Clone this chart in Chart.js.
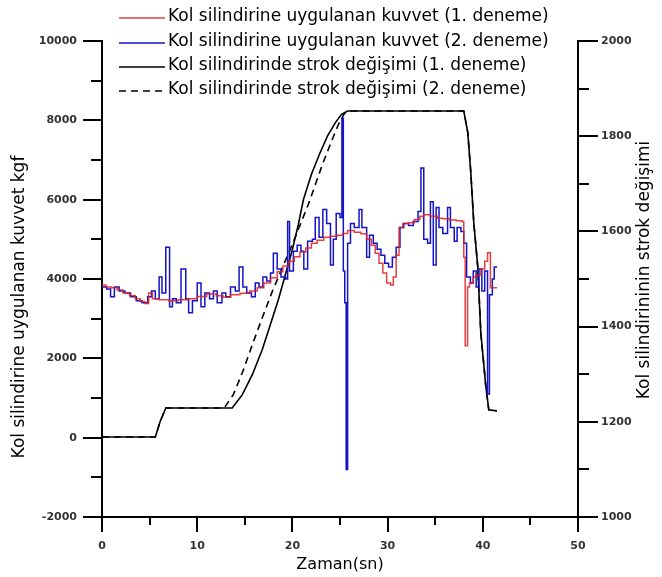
<!DOCTYPE html>
<html>
<head>
<meta charset="utf-8">
<script src="https://cdn.jsdelivr.net/npm/chart.js@4.4.1/dist/chart.umd.min.js"></script>
<style>
  html, body { margin: 0; padding: 0; background: #fff; }
  #kutu { width: 662px; height: 577px; }
</style>
</head>
<body>
<div id="kutu"><canvas id="grafik"></canvas></div>
<script>
const seriAdlari = [
  "Kol silindirine uygulanan kuvvet (1. deneme)",
  "Kol silindirine uygulanan kuvvet (2. deneme)",
  "Kol silindirinde strok değişimi (1. deneme)",
  "Kol silindirinde strok değişimi (2. deneme)",
];

// kuvvet (kgf), 1. deneme
const kuvvet1Zaman = [0, 0.4, 1, 1.6, 2.2, 2.9, 3.5, 4, 4.5, 4.9, 5.3, 6, 7, 8, 9, 10, 11, 12, 12.7, 13.5,
  14.5, 15.5, 16.3, 17, 17.7, 18.4, 19, 19.6, 20.2, 20.8, 21.4, 22, 22.6, 23.3, 24, 24.7, 25.3, 25.8, 26.5, 27.2,
  27.8, 28.3, 28.7, 29.1, 29.5, 29.9, 30.3, 30.6, 30.9, 31.2, 31.6, 32.2, 32.8, 33.4, 33.8, 34.5, 35.2, 35.8, 36.5, 37.2,
  37.8, 38, 38.15, 38.4, 38.6, 39, 39.4, 39.8, 40.2, 40.5, 40.8, 41.5];
const kuvvet1 = [3850, 3800, 3780, 3720, 3650, 3580, 3500, 3430, 3380, 3650, 3500, 3480, 3450, 3480, 3500, 3560, 3620, 3580, 3540, 3600,
  3640, 3700, 3780, 3900, 4030, 4180, 4330, 4450, 4560, 4680, 4780, 4900, 4980, 5050, 5080, 5100, 5150, 5220, 5180, 5140,
  5000, 4850, 4650, 4400, 4150, 3900, 3850, 4050, 4600, 5300, 5400, 5420, 5500, 5580, 5620, 5580, 5530, 5520, 5490, 5470,
  5450, 4550, 2320, 3800, 3900, 4050, 4100, 4250, 4450, 4660, 3780, 3780];

// kuvvet (kgf), 2. deneme
const kuvvet2Zaman = [0, 0.5, 0.9, 1.3, 1.8, 2.4, 3, 3.6, 4.2, 4.8, 5.2, 5.6, 6, 6.3, 6.7, 7.1, 7.4, 7.8, 8.3, 8.8,
  9.1, 9.5, 10, 10.4, 10.8, 11.3, 11.7, 12.1, 12.6, 13, 13.5, 14, 14.4, 14.8, 15.2, 15.7, 16.1, 16.5, 16.9, 17.3,
  17.7, 18, 18.4, 18.8, 19.3, 19.5, 19.7, 20.1, 20.5, 20.9, 21.2, 21.6, 22.1, 22.4, 22.8, 23.2, 23.6, 24, 24.3, 24.6,
  25, 25.2, 25.35, 25.5, 25.65, 25.8, 26.1, 26.5, 27, 27.3, 27.8, 28.1, 28.5, 28.9, 29.3, 29.7, 30.1, 30.5, 30.9, 31.3,
  31.7, 32.2, 32.7, 33.2, 33.5, 33.8, 34.2, 34.5, 34.8, 35.1, 35.4, 35.8, 36.3, 36.6, 37, 37.3, 37.7, 38, 38.3, 38.7,
  39, 39.3, 39.6, 39.9, 40.2, 40.5, 40.7, 41, 41.2, 41.5];
const kuvvet2 = [3800, 3750, 3550, 3800, 3700, 3650, 3550, 3450, 3400, 3550, 3700, 3500, 4050, 3650, 4800, 3300, 3500, 3400, 4250, 3500,
  3150, 3450, 3900, 3300, 3650, 3500, 3700, 3400, 3650, 3550, 3800, 3700, 4300, 3800, 3650, 3550, 3900, 3800, 4050, 3950,
  4150, 4650, 4250, 4050, 4000, 5450, 4200, 4700, 4850, 4700, 4250, 4950, 5000, 5550, 5050, 5750, 5400, 4350, 5000, 5650,
  5550, 8050, 4200, 3400, -800, 4900, 5400, 5300, 5750, 5300, 4550, 5100, 4900, 4750, 4600, 4400, 4300, 4550, 4800, 5300,
  5400, 5350, 5450, 5700, 6800, 5000, 4900, 5950, 4350, 5800, 5300, 5150, 5800, 5300, 4950, 5300, 5200, 4900, 4050, 3900,
  4200, 3800, 4250, 3700, 4200, 1100, 3600, 4000, 4300, 4300];

// strok, 1. deneme
const strok1Zaman = [0, 5.6, 6.1, 6.7, 13.68, 14.74, 15.79, 16.84, 17.68, 18.53, 19.26, 20, 20.63, 21.16, 22,
  22.84, 23.68, 24.53, 25.16, 25.79, 38, 38.42, 38.74, 39.05, 39.47, 39.79, 40.32, 40.63, 41.47];
const strok1 = [1168, 1168, 1200, 1229, 1229, 1257, 1299, 1352, 1404, 1457, 1509, 1562, 1615, 1667, 1720,
  1762, 1800, 1829, 1846, 1853, 1853, 1808, 1724, 1619, 1526, 1387, 1274, 1225, 1223];

// strok, 2. deneme
const strok2Zaman = [0, 5.6, 6.1, 6.7, 12.84, 13.79, 14.74, 15.79, 16.84, 17.89, 18.95, 20, 20.84, 21.68, 22.42,
  23.16, 23.79, 24.32, 24.84, 25.47, 25.89, 38, 38.42, 38.74, 39.05, 39.47, 39.79, 40.32, 40.63, 41.47];
const strok2 = [1168, 1168, 1200, 1229, 1229, 1257, 1303, 1362, 1419, 1474, 1524, 1573, 1615, 1657, 1699,
  1741, 1773, 1800, 1825, 1848, 1853, 1853, 1808, 1724, 1619, 1526, 1387, 1274, 1225, 1223];

const zamanTikleri = [0, 10, 20, 30, 40, 50];
const kuvvetTikleri = [-2000, 0, 2000, 4000, 6000, 8000, 10000];
const strokTikleri = [1000, 1200, 1400, 1600, 1800, 2000];

const renkler = ["rgba(222,30,36,0.85)", "#1414c4", "#000", "#000"];

const pts = (xs, ys) => xs.map((x, i) => ({ x, y: ys[i] }));

Chart.defaults.font.family = "DejaVu Sans";
Chart.defaults.color = "#000";

const tikFontu = { family: "DejaVu Sans", size: 11, weight: "bold" };

// small axis ticks (major + minor), drawn off the chart's own scales
const tikCizici = {
  id: "tikCizici",
  afterDraw(chart) {
    const { ctx, chartArea: a, scales } = chart;
    ctx.save();
    ctx.strokeStyle = "#000";
    ctx.lineWidth = 2;
    ctx.beginPath();
    for (let v = -2000; v <= 10000; v += 1000) {
      const y = Math.round(scales.y.getPixelForValue(v));
      const len = v % 2000 === 0 ? 19 : 11;
      ctx.moveTo(a.left, y);
      ctx.lineTo(a.left - len, y);
    }
    for (let v = 1000; v <= 2000; v += 100) {
      const y = Math.round(scales.y1.getPixelForValue(v));
      const len = v % 200 === 0 ? 20 : 11;
      ctx.moveTo(a.right, y);
      ctx.lineTo(a.right + len, y);
    }
    for (let t = 0; t <= 50; t += 5) {
      const x = Math.round(scales.x.getPixelForValue(t));
      const len = t % 10 === 0 ? 15 : 8;
      ctx.moveTo(x, a.bottom);
      ctx.lineTo(x, a.bottom + len);
    }
    ctx.stroke();
    ctx.restore();
  },
};

// legend sits inside the plot, top left
const lejant = {
  id: "lejant",
  afterDraw(chart) {
    const { ctx } = chart;
    const satirlar = [17, 42, 66, 90];
    ctx.save();
    ctx.font = '17px "DejaVu Sans"';
    ctx.textBaseline = "middle";
    ctx.textAlign = "left";
    seriAdlari.forEach((ad, i) => {
      const y = satirlar[i];
      ctx.beginPath();
      ctx.strokeStyle = renkler[i];
      ctx.lineWidth = 1.6;
      ctx.setLineDash(i === 3 ? [7, 5] : []);
      ctx.moveTo(119, y + 1);
      ctx.lineTo(165, y + 1);
      ctx.stroke();
      ctx.setLineDash([]);
      ctx.fillStyle = "#000";
      ctx.fillText(ad, 168, y);
    });
    ctx.restore();
  },
};

// vertical axis titles
const eksenBasliklari = {
  id: "eksenBasliklari",
  afterDraw(chart) {
    const { ctx } = chart;
    ctx.save();
    ctx.font = '17px "DejaVu Sans"';
    ctx.fillStyle = "#000";
    ctx.textAlign = "center";
    ctx.textBaseline = "middle";
    ctx.translate(20, 307);
    ctx.rotate(-Math.PI / 2);
    ctx.fillText("Kol silindirine uygulanan kuvvet kgf", 0, 0);
    ctx.restore();
    ctx.save();
    ctx.font = '17px "DejaVu Sans"';
    ctx.fillStyle = "#000";
    ctx.textAlign = "center";
    ctx.textBaseline = "middle";
    ctx.translate(645, 270);
    ctx.rotate(-Math.PI / 2);
    ctx.fillText("Kol silindirininin strok değişimi", 0, 0);
    ctx.restore();
  },
};

new Chart(document.getElementById("grafik"), {
  type: "line",
  data: {
    datasets: [
      {
        label: seriAdlari[0],
        data: pts(kuvvet1Zaman, kuvvet1),
        yAxisID: "y",
        borderColor: renkler[0],
        borderWidth: 1.5,
        stepped: true,
      },
      {
        label: seriAdlari[1],
        data: pts(kuvvet2Zaman, kuvvet2),
        yAxisID: "y",
        borderColor: renkler[1],
        borderWidth: 1.5,
        stepped: true,
      },
      {
        label: seriAdlari[2],
        data: pts(strok1Zaman, strok1),
        yAxisID: "y1",
        borderColor: renkler[2],
        borderWidth: 1.6,
      },
      {
        label: seriAdlari[3],
        data: pts(strok2Zaman, strok2),
        yAxisID: "y1",
        borderColor: renkler[3],
        borderWidth: 1.6,
        borderDash: [7, 5],
      },
    ],
  },
  options: {
    responsive: true,
    maintainAspectRatio: false,
    animation: false,
    events: [],
    elements: { point: { radius: 0 }, line: { tension: 0, fill: false } },
    layout: { padding: { top: 41, left: 0, right: 0, bottom: 0 } },
    plugins: { legend: { display: false }, tooltip: { enabled: false } },
    scales: {
      x: {
        type: "linear",
        min: 0,
        max: 50,
        afterFit: (s) => { s.height = 60; },
        afterBuildTicks: (s) => { s.ticks = zamanTikleri.map((v) => ({ value: v })); },
        ticks: { font: tikFontu, color: "#333", padding: 23, maxRotation: 0 },
        grid: { display: false, drawTicks: false },
        border: { display: true, color: "#000", width: 2 },
        title: { display: true, text: "Zaman(sn)", font: { size: 16 }, padding: { top: 0, bottom: 3 } },
      },
      y: {
        type: "linear",
        position: "left",
        min: -2000,
        max: 10000,
        afterFit: (s) => { s.width = 102; },
        afterBuildTicks: (s) => { s.ticks = kuvvetTikleri.map((v) => ({ value: v })); },
        ticks: { font: tikFontu, color: "#333", padding: 25, callback: (v) => String(v) },
        grid: { display: false, drawTicks: false },
        border: { display: true, color: "#000", width: 2 },
      },
      y1: {
        type: "linear",
        position: "right",
        min: 1000,
        max: 2000,
        afterFit: (s) => { s.width = 84; },
        afterBuildTicks: (s) => { s.ticks = strokTikleri.map((v) => ({ value: v })); },
        ticks: { font: tikFontu, color: "#333", padding: 23, callback: (v) => String(v) },
        grid: { display: false, drawTicks: false },
        border: { display: true, color: "#000", width: 2 },
      },
    },
  },
  plugins: [tikCizici, lejant, eksenBasliklari],
});
</script>
</body>
</html>
